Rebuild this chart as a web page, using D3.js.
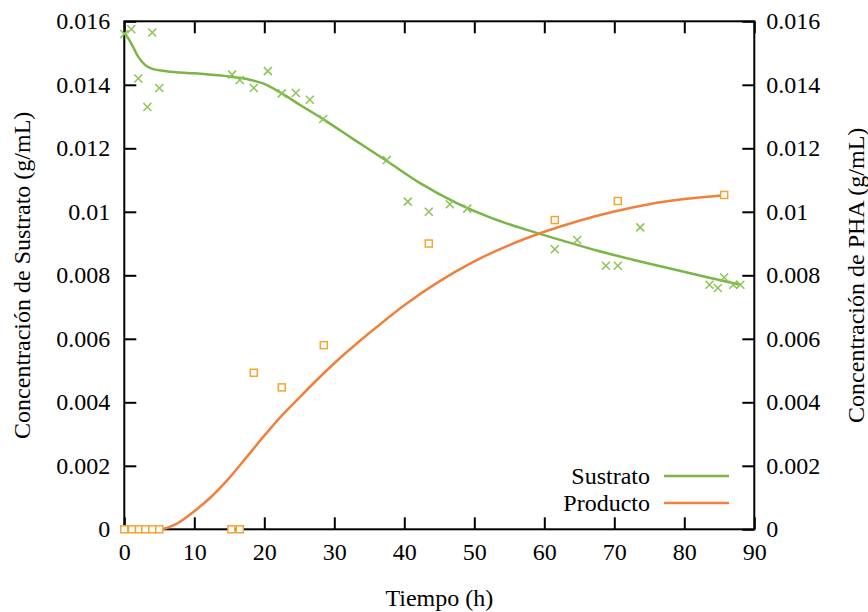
<!DOCTYPE html>
<html>
<head>
<meta charset="utf-8">
<script src="https://cdn.jsdelivr.net/npm/d3@7"></script>
<style>
  body { margin: 0; background: #fff; }
  svg { display: block; }
  svg text { font-family: "Liberation Serif", "Times New Roman", Times, "DejaVu Serif", serif; }
</style>
</head>
<body>
<svg id="chart" width="868" height="612"></svg>
<script>
// measured points (h, g/mL)
const sustratoT = [0, 1, 2, 3.3, 4, 5, 15.4, 16.5, 18.5, 20.5, 22.5, 24.5, 26.5, 28.4, 37.5, 40.5, 43.5, 46.5, 49,
  61.5, 64.7, 68.8, 70.5, 73.7, 83.6, 84.8, 85.7, 87, 88];
const sustratoC = [0.0156, 0.01575, 0.0142, 0.0133, 0.01565, 0.0139, 0.01432, 0.01415, 0.0139, 0.01443, 0.01373, 0.01374, 0.01353, 0.01292,
  0.01163, 0.01032, 0.01, 0.01024, 0.0101, 0.00882, 0.00911, 0.0083, 0.0083, 0.00951, 0.0077, 0.0076, 0.00793, 0.0077, 0.0077];

const productoT = [0, 1.1, 2.1, 3, 4, 5, 15.3, 16.5, 18.5, 22.5, 28.5, 43.5, 61.5, 70.5, 85.7];
const productoC = [0, 0, 0, 0, 0, 0, 0, 0, 0.00493, 0.00447, 0.0058, 0.009, 0.00974, 0.01034, 0.01053];

// model curves
const sustratoFitT = [0, 1, 2, 3, 4, 6, 10, 15, 17.5, 20, 22.5, 25, 28.4, 32.5, 37.5, 42.5, 47.5, 52.5, 57.5, 62.5, 67.5, 72.5, 77.5, 82.5, 88];
const sustratoFitC = [0.01566, 0.0153, 0.01488, 0.01462, 0.0145, 0.01443, 0.01436, 0.01426, 0.01418, 0.01403, 0.01373, 0.01338, 0.01292,
  0.01232, 0.0116, 0.01087, 0.01027, 0.0098, 0.00943, 0.0091, 0.00878, 0.0085, 0.00824, 0.00798, 0.0077];

const productoFitT = [0, 5, 7.5, 10, 12.5, 15, 17.5, 20, 22.5, 25, 30, 35, 40, 45, 50, 55, 60, 65, 70, 75, 80, 86];
const productoFitC = [0, 0, 0.00018, 0.00057, 0.00104, 0.00162, 0.00228, 0.00295, 0.00358, 0.00415, 0.00523, 0.00618, 0.00706, 0.00781,
  0.00844, 0.00895, 0.00937, 0.00972, 0.01001, 0.01024, 0.0104, 0.01053];

const xTicks = [0, 10, 20, 30, 40, 50, 60, 70, 80, 90];
const yTicks = [0, 0.002, 0.004, 0.006, 0.008, 0.01, 0.012, 0.014, 0.016];
const yTickLabels = ['0', '0.002', '0.004', '0.006', '0.008', '0.01', '0.012', '0.014', '0.016'];

const legendNames = ['Sustrato', 'Producto'];

const svg = d3.select('#chart');
const plotL = 124.3, plotR = 754.3, plotT = 21.3, plotB = 529.3;

const x = d3.scaleLinear().domain([0, 90]).range([plotL, plotR]);
const y = d3.scaleLinear().domain([0, 0.016]).range([plotB, plotT]);

const greenLine = '#79b646', greenMark = '#8cc456';
const orangeLine = '#f0803e', orangeMark = '#f5a431';
const fontSize = 24;
const serif = '"Liberation Serif", "Times New Roman", Times, "DejaVu Serif", serif';

const yFmt = (d) => yTickLabels[yTicks.indexOf(d)];

function styleAxis(g) {
  g.attr('font-family', null).attr('font-size', null);
  g.select('.domain').remove();
  g.selectAll('.tick line').attr('stroke', '#000').attr('stroke-width', 2);
  g.selectAll('.tick text').attr('fill', '#000').style('font-size', fontSize + 'px')
    .style('font-family', serif);
}

svg.append('g').attr('transform', `translate(0,${plotB})`)
  .call(d3.axisBottom(x).tickValues(xTicks).tickSizeInner(-12).tickSizeOuter(0).tickPadding(14))
  .call(styleAxis);
svg.append('g').attr('transform', `translate(0,${plotT})`)
  .call(d3.axisTop(x).tickValues(xTicks).tickSizeInner(-12).tickSizeOuter(0).tickFormat(''))
  .call(styleAxis);
svg.append('g').attr('transform', `translate(${plotL},0)`)
  .call(d3.axisLeft(y).tickValues(yTicks).tickFormat(yFmt).tickSizeInner(-12).tickSizeOuter(0).tickPadding(14))
  .call(styleAxis);
svg.append('g').attr('transform', `translate(${plotR},0)`)
  .call(d3.axisRight(y).tickValues(yTicks).tickFormat(yFmt).tickSizeInner(-12).tickSizeOuter(0).tickPadding(12))
  .call(styleAxis);

// frame
svg.append('rect')
  .attr('x', plotL).attr('y', plotT)
  .attr('width', plotR - plotL).attr('height', plotB - plotT)
  .attr('fill', 'none').attr('stroke', '#000').attr('stroke-width', 2);

// fitted curves
const line = d3.line().x((d) => x(d[0])).y((d) => y(d[1])).curve(d3.curveMonotoneX);
svg.append('path')
  .datum(sustratoFitT.map((t, i) => [t, sustratoFitC[i]]))
  .attr('d', line).attr('fill', 'none').attr('stroke', greenLine).attr('stroke-width', 2.5);
svg.append('path')
  .datum(productoFitT.map((t, i) => [t, productoFitC[i]]))
  .attr('d', line).attr('fill', 'none').attr('stroke', orangeLine).attr('stroke-width', 2.5);

// measured points
svg.append('g').selectAll('path')
  .data(sustratoT.map((t, i) => [t, sustratoC[i]]))
  .join('path')
  .attr('transform', (d) => `translate(${x(d[0])},${y(d[1])})`)
  .attr('d', 'M-4,-4L4,4M-4,4L4,-4')
  .attr('stroke', greenMark).attr('stroke-width', 1.5).attr('fill', 'none');

svg.append('g').selectAll('rect')
  .data(productoT.map((t, i) => [t, productoC[i]]))
  .join('rect')
  .attr('x', (d) => x(d[0]) - 3.5).attr('y', (d) => y(d[1]) - 3.5)
  .attr('width', 7).attr('height', 7)
  .attr('fill', '#fff').attr('stroke', orangeMark).attr('stroke-width', 1.5);

// legend
const legend = svg.append('g');
[greenLine, orangeLine].forEach((c, i) => {
  const ly = 476 + i * 27;
  legend.append('text')
    .attr('x', 650).attr('y', ly).attr('dy', '0.35em')
    .attr('text-anchor', 'end').style('font-size', fontSize + 'px')
    .text(legendNames[i]);
  legend.append('line')
    .attr('x1', 664).attr('x2', 729).attr('y1', ly).attr('y2', ly)
    .attr('stroke', c).attr('stroke-width', 2.5);
});

// axis titles
svg.append('text')
  .attr('x', (plotL + plotR) / 2).attr('y', 598).attr('dy', '0.35em')
  .attr('text-anchor', 'middle').style('font-size', fontSize + 'px')
  .text('Tiempo (h)');
svg.append('text')
  .attr('transform', `translate(22,${(plotT + plotB) / 2}) rotate(-90)`)
  .attr('dy', '0.35em').attr('text-anchor', 'middle').style('font-size', fontSize + 'px')
  .text('Concentración de Sustrato (g/mL)');
svg.append('text')
  .attr('transform', `translate(856,${(plotT + plotB) / 2}) rotate(-90)`)
  .attr('dy', '0.35em').attr('text-anchor', 'middle').style('font-size', fontSize + 'px')
  .text('Concentración de PHA (g/mL)');
</script>
</body>
</html>
